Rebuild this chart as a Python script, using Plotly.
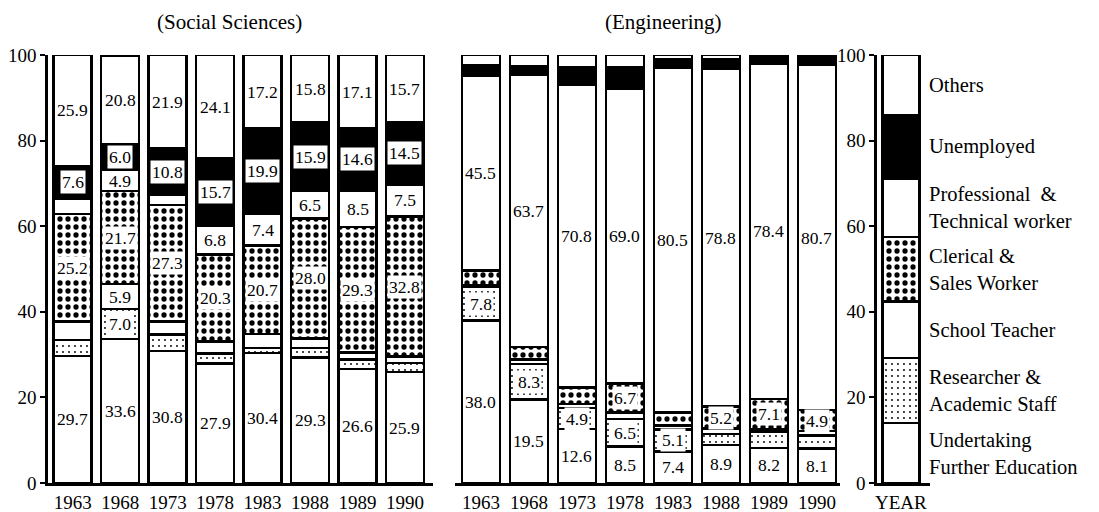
import plotly.graph_objects as go

years = ["1963", "1968", "1973", "1978", "1983", "1988", "1989", "1990"]
series_names = ["Undertaking Further Education", "Researcher & Academic Staff", "School Teacher",
                "Clerical & Sales Worker", "Professional & Technical worker", "Unemployed", "Others"]

# Social Sciences (bottom -> top)
soc_further = [29.7, 33.6, 30.8, 27.9, 30.4, 29.3, 26.6, 25.9]
soc_research = [3.7, 7.0, 3.9, 2.3, 1.2, 2.3, 2.3, 2.1]
soc_teacher = [4.3, 5.9, 3.0, 2.9, 3.2, 2.2, 1.6, 1.5]
soc_clerical = [25.2, 21.7, 27.3, 20.3, 20.7, 28.0, 29.3, 32.8]
soc_prof = [3.6, 4.9, 2.3, 6.8, 7.4, 6.5, 8.5, 7.5]
soc_unemp = [7.6, 6.0, 10.8, 15.7, 19.9, 15.9, 14.6, 14.5]
soc_others = [25.9, 20.8, 21.9, 24.1, 17.2, 15.8, 17.1, 15.7]

# which social-science values are printed (1) or not (0)
soc_further_lbl = [1, 1, 1, 1, 1, 1, 1, 1]
soc_research_lbl = [0, 1, 0, 0, 0, 0, 0, 0]
soc_teacher_lbl = [0, 1, 0, 0, 0, 0, 0, 0]
soc_clerical_lbl = [1, 1, 1, 1, 1, 1, 1, 1]
soc_prof_lbl = [0, 1, 0, 1, 1, 1, 1, 1]
soc_unemp_lbl = [1, 1, 1, 1, 1, 1, 1, 1]
soc_others_lbl = [1, 1, 1, 1, 1, 1, 1, 1]

# Engineering (bottom -> top)
eng_further = [38.0, 19.5, 12.6, 8.5, 7.4, 8.9, 8.2, 8.1]
eng_research = [7.8, 8.3, 4.9, 6.5, 5.1, 2.6, 3.8, 3.0]
eng_teacher = [0.3, 1.0, 1.0, 1.5, 0.9, 1.2, 0.5, 1.0]
eng_clerical = [3.5, 3.0, 3.8, 6.7, 3.1, 5.2, 7.1, 4.9]
eng_prof = [45.5, 63.7, 70.8, 69.0, 80.5, 78.8, 78.4, 80.7]
eng_unemp = [2.5, 1.8, 4.0, 5.0, 2.0, 2.2, 1.5, 1.8]
eng_others = [2.4, 2.7, 2.9, 2.8, 1.0, 1.1, 0.5, 0.5]

eng_further_lbl = [1, 1, 1, 1, 1, 1, 1, 1]
eng_research_lbl = [1, 1, 1, 1, 1, 0, 0, 0]
eng_teacher_lbl = [0, 0, 0, 0, 0, 0, 0, 0]
eng_clerical_lbl = [0, 0, 0, 1, 0, 1, 1, 1]
eng_prof_lbl = [1, 1, 1, 1, 1, 1, 1, 1]
eng_unemp_lbl = [0, 0, 0, 0, 0, 0, 0, 0]
eng_others_lbl = [0, 0, 0, 0, 0, 0, 0, 0]

# Legend (key) bar
key_category = ["YEAR"]
key_values = [14.0, 15.2, 13.2, 15.1, 13.7, 14.8, 14.0]
key_labels = ["Undertaking<br>Further Education", "Researcher &<br>Academic Staff", "School Teacher",
              "Clerical &<br>Sales Worker", "Professional\u00a0\u00a0&<br>Technical worker",
              "Unemployed", "Others"]

FONT = "Liberation Serif"
# page body has an 8px margin: figure is sized to fit the 1099x512 window
OFF = 8
W, H = 1099 - OFF, 512 - OFF


def px(xp):
    return (xp - OFF) / W


def py(yp):
    return 1 - (yp - OFF) / H


styles = [
    dict(color="white"),
    dict(color="white", pattern=dict(shape=".", fgcolor="black", bgcolor="white", size=6, solidity=0.08)),
    dict(color="white"),
    dict(color="white", pattern=dict(shape=".", fgcolor="black", bgcolor="white", size=8, solidity=0.34)),
    dict(color="white"),
    dict(color="black"),
    dict(color="white"),
]
boxed = [False, True, False, True, False, True, False]

soc_series = [soc_further, soc_research, soc_teacher, soc_clerical, soc_prof, soc_unemp, soc_others]
soc_lbls = [soc_further_lbl, soc_research_lbl, soc_teacher_lbl, soc_clerical_lbl, soc_prof_lbl,
            soc_unemp_lbl, soc_others_lbl]
eng_series = [eng_further, eng_research, eng_teacher, eng_clerical, eng_prof, eng_unemp, eng_others]
eng_lbls = [eng_further_lbl, eng_research_lbl, eng_teacher_lbl, eng_clerical_lbl, eng_prof_lbl,
            eng_unemp_lbl, eng_others_lbl]

fig = go.Figure()
annotations = []


def add_panel(series, lbls, xa, ya, width):
    base = [0.0] * len(years)
    for k, vals in enumerate(series):
        m = dict(styles[k])
        m["line"] = dict(color="black", width=2.5)
        fig.add_trace(go.Bar(x=years, y=vals, xaxis=xa, yaxis=ya, marker=m, width=width,
                             name=series_names[k], showlegend=False, hoverinfo="skip"))
        for i, v in enumerate(vals):
            if lbls[k][i]:
                ann = dict(x=i, y=base[i] + v / 2, xref=xa, yref=ya, text=f"{v:.1f}",
                           showarrow=False, font=dict(family=FONT, size=17.5, color="black"),
                           borderpad=1)
                if boxed[k]:
                    ann["bgcolor"] = "white"
                annotations.append(ann)
            base[i] += v


add_panel(soc_series, soc_lbls, "x", "y", 0.8)
add_panel(eng_series, eng_lbls, "x2", "y2", 0.79)

# key bar
kbase = 0.0
for k, v in enumerate(key_values):
    m = dict(styles[k])
    m["line"] = dict(color="black", width=2.5)
    fig.add_trace(go.Bar(x=key_category, y=[v], xaxis="x3", yaxis="y3", marker=m, width=0.7,
                         name=series_names[k], showlegend=False, hoverinfo="skip"))
    annotations.append(dict(x=0.5, y=kbase + v / 2, xref="x3", yref="y3", text=key_labels[k],
                            showarrow=False, xanchor="left", align="left",
                            font=dict(family=FONT, size=20.5, color="black")))
    kbase += v

annotations.append(dict(x=px(229), y=py(22), xref="paper", yref="paper", text="(Social Sciences)",
                        showarrow=False, xanchor="center", yanchor="middle",
                        font=dict(family=FONT, size=21, color="black")))
annotations.append(dict(x=px(663), y=py(22), xref="paper", yref="paper", text="(Engineering)",
                        showarrow=False, xanchor="center", yanchor="middle",
                        font=dict(family=FONT, size=21, color="black")))

ydom = [py(483), py(55)]
tickfont = dict(family=FONT, size=19, color="black")
common_x = dict(type="category", showline=True, linecolor="black", linewidth=2.5, ticks="",
                showgrid=False, zeroline=False, tickfont=tickfont, automargin=False, fixedrange=True)
common_y = dict(range=[0, 100], domain=ydom, showgrid=False, zeroline=False, automargin=False,
                fixedrange=True)

fig.update_layout(
    width=W, height=H, template="none",
    margin=dict(l=0, r=0, t=0, b=0),
    paper_bgcolor="white", plot_bgcolor="rgba(0,0,0,0)",
    barmode="stack",
    xaxis=dict(common_x, domain=[px(48), px(433)], range=[-0.52, 7.59], anchor="y"),
    yaxis=dict(common_y, anchor="x", showline=True, linecolor="black", linewidth=2.5,
               ticks="outside", ticklen=5, tickwidth=2, tickcolor="black",
               tickvals=[0, 20, 40, 60, 80, 100], tickfont=tickfont),
    xaxis2=dict(common_x, domain=[px(455), px(840)], range=[-0.54, 7.48], anchor="y2"),
    yaxis2=dict(common_y, anchor="x2", showline=False, showticklabels=False, ticks=""),
    xaxis3=dict(common_x, domain=[px(877), px(930)], range=[-0.45, 0.55], anchor="y3"),
    yaxis3=dict(common_y, anchor="x3", showline=True, linecolor="black", linewidth=2.5,
                ticks="outside", ticklen=5, tickwidth=2, tickcolor="black",
                tickvals=[0, 20, 40, 60, 80, 100], tickfont=tickfont),
    annotations=annotations,
)

fig.write_html("out.html")
